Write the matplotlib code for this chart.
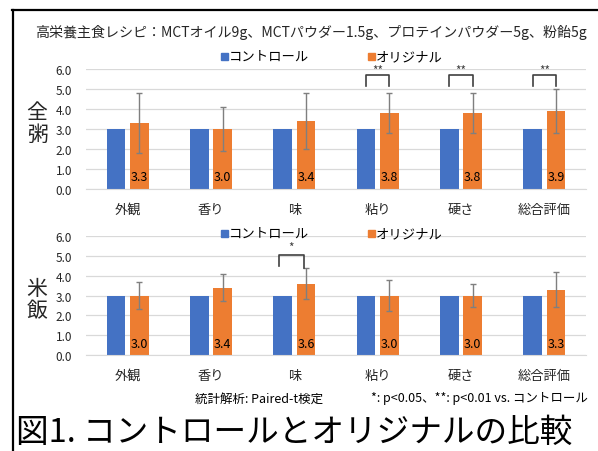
import matplotlib
matplotlib.use("Agg")
import matplotlib.pyplot as plt
import numpy as np
from matplotlib.lines import Line2D
from matplotlib.patches import Rectangle

plt.rcParams['font.family'] = ['Noto Sans CJK JP', 'DejaVu Sans']

categories = ['外観', '香り', '味', '粘り', '硬さ', '総合評価']
control_okayu = [3.0, 3.0, 3.0, 3.0, 3.0, 3.0]
original_okayu = [3.3, 3.0, 3.4, 3.8, 3.8, 3.9]
err_okayu = [1.5, 1.1, 1.4, 1.0, 1.0, 1.1]
control_rice = [3.0, 3.0, 3.0, 3.0, 3.0, 3.0]
original_rice = [3.0, 3.4, 3.6, 3.0, 3.0, 3.3]
err_rice = [0.7, 0.7, 0.8, 0.8, 0.6, 0.9]
sig_okayu = {3: '**', 4: '**', 5: '**'}
sig_rice = {2: '*'}
yticks = [0.0, 1.0, 2.0, 3.0, 4.0, 5.0, 6.0]

BLUE = '#4472C4'
ORANGE = '#ED7D31'
W, H = 598, 452
fig = plt.figure(figsize=(W / 100, H / 100), dpi=100)
fig.patch.set_facecolor('white')

def fx(px):
    return px / W

def fy(py):
    return 1 - py / H

# border lines
fig.add_artist(Line2D([fx(12), 1], [fy(11), fy(11)], color='black', lw=1.6, transform=fig.transFigure))
fig.add_artist(Line2D([fx(13), fx(13)], [0, fy(11)], color='black', lw=1.6, transform=fig.transFigure))

fig.text(fx(35), fy(33), '高栄養主食レシピ：MCTオイル9g、MCTパウダー1.5g、プロテインパウダー5g、粉飴5g',
         fontsize=10.1, va='center', ha='left', color='#262626')

def legend_item(px, py, color, label):
    fig.add_artist(Rectangle((fx(px), fy(py + 3.5)), 7 / W, 7 / H, color=color,
                             transform=fig.transFigure))
    fig.text(fx(px + 8), fy(py), label, color='black', fontsize=9.6, ha='left', va='center')

def draw_panel(top_px, bot_px, ctrl, orig, err, sig, ylab, ylab_y, legend_y, bracket_cfg):
    ax = fig.add_axes([fx(86), fy(bot_px), fx(586) - fx(86), fy(top_px) - fy(bot_px)])
    x = np.arange(len(categories))
    off = 0.141
    bw = 0.225
    ax.bar(x - off, ctrl, bw, color=BLUE, zorder=2)
    ax.bar(x + off, orig, bw, color=ORANGE, zorder=2)
    ax.errorbar(x + off, orig, yerr=err, fmt='none', ecolor='#7f7f7f', elinewidth=1.0,
                capsize=2, capthick=1.0, zorder=3)
    for xi, v in zip(x, orig):
        ax.text(xi + off, 0.6, f'{v:.1f}', ha='center', va='center', fontsize=9, color='black', zorder=4)
    ax.set_xlim(-0.5, len(categories) - 0.5)
    ax.set_ylim(0, 6)
    ax.set_yticks(yticks)
    ax.set_yticklabels([f'{t:.1f}' for t in yticks], fontsize=8.5, color='#262626')
    ax.set_xticks(x)
    ax.set_xticklabels(categories, fontsize=9.5, color='#262626')
    ax.tick_params(axis='both', length=0)
    ax.tick_params(axis='y', pad=10)
    ax.tick_params(axis='x', pad=10)
    ax.grid(axis='y', color='#d9d9d9', lw=0.9, zorder=0)
    for s in ['top', 'right', 'left']:
        ax.spines[s].set_visible(False)
    ax.spines['bottom'].set_color('#d9d9d9')
    ax.set_axisbelow(True)
    # brackets
    top_y, lleg, rleg, star_y, lo, ro = bracket_cfg
    for i, s in sig.items():
        xl, xr = i + lo, i + ro
        ax.plot([xl, xl, xr, xr], [lleg, top_y, top_y, rleg], color='#404040', lw=1.2,
                clip_on=False, zorder=5)
        ax.text((xl + xr) / 2, star_y, s, ha='center', va='center', fontsize=8.5,
                color='#404040', clip_on=False)
    # y label
    fig.text(fx(37), fy(ylab_y), ylab[0] + '\n' + ylab[1], fontsize=15, ha='center', va='center',
             linespacing=1.05, color='#262626')
    # legend
    legend_item(221, legend_y, BLUE, 'コントロール')
    legend_item(368, legend_y, ORANGE, 'オリジナル')
    return ax

draw_panel(70, 190, control_okayu, original_okayu, err_okayu, sig_okayu, '全粥', 124, 57,
           (5.7, 5.13, 5.13, 5.92, -0.141, 0.141))
draw_panel(237, 356, control_rice, original_rice, err_rice, sig_rice, '米飯', 300, 234,
           (5.06, 4.5, 4.4, 5.4, -0.19, 0.12))

fig.text(fx(195), fy(399), '統計解析: Paired-t検定', fontsize=9, ha='left', va='center', color='black')
fig.text(fx(588), fy(399), '*: p<0.05、**: p<0.01 vs. コントロール', fontsize=9, ha='right',
         va='center', color='black')
fig.text(fx(16), fy(433), '図1. コントロールとオリジナルの比較', fontsize=23.5, ha='left', va='center',
         color='black')

fig.savefig('out.png', dpi=100, facecolor='white')
